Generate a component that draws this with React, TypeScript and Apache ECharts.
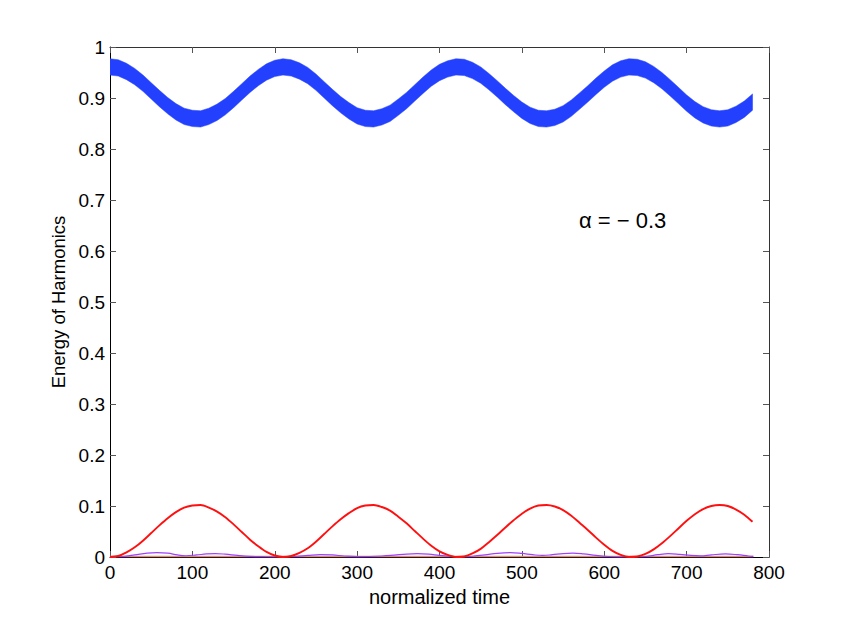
import React, { useEffect, useRef } from "react";
import * as echarts from "echarts";

// ---- data ----
const time = [
  0, 10, 20, 30, 40, 50, 60, 70, 80, 90, 100, 110, 120, 130, 140, 150, 160, 170, 180, 190,
  200, 210, 220, 230, 240, 250, 260, 270, 280, 290, 300, 310, 320, 330, 340, 350, 360, 370, 380, 390,
  400, 410, 420, 430, 440, 450, 460, 470, 480, 490, 500, 510, 520, 530, 540, 550, 560, 570, 580, 590,
  600, 610, 620, 630, 640, 650, 660, 670, 680, 690, 700, 710, 720, 730, 740, 750, 760, 770, 780,
];

const redEnergy = [
  0.0, 0.002, 0.009, 0.019, 0.032, 0.047, 0.062, 0.076, 0.088, 0.097, 0.101, 0.102, 0.097, 0.089, 0.078, 0.064, 0.049, 0.034, 0.021, 0.01,
  0.003, 0.0, 0.002, 0.008, 0.017, 0.03, 0.045, 0.06, 0.074, 0.086, 0.096, 0.101, 0.102, 0.098, 0.091, 0.079, 0.066, 0.051, 0.036, 0.022,
  0.011, 0.004, 0.0, 0.001, 0.007, 0.016, 0.029, 0.043, 0.058, 0.072, 0.085, 0.095, 0.101, 0.102, 0.099, 0.092, 0.081, 0.067, 0.053, 0.038,
  0.024, 0.012, 0.004, 0.0, 0.001, 0.006, 0.015, 0.027, 0.041, 0.056, 0.071, 0.084, 0.094, 0.1, 0.102, 0.1, 0.093, 0.083, 0.069,
];

const blueUpper = [
  0.977, 0.975, 0.968, 0.958, 0.945, 0.93, 0.915, 0.901, 0.889, 0.88, 0.876, 0.875, 0.88, 0.888, 0.899, 0.913, 0.928, 0.943, 0.956, 0.967,
  0.974, 0.977, 0.975, 0.969, 0.96, 0.947, 0.932, 0.917, 0.903, 0.891, 0.881, 0.876, 0.875, 0.879, 0.886, 0.898, 0.911, 0.926, 0.941, 0.955,
  0.966, 0.973, 0.977, 0.976, 0.97, 0.961, 0.948, 0.934, 0.919, 0.905, 0.892, 0.882, 0.876, 0.875, 0.878, 0.885, 0.896, 0.91, 0.924, 0.939,
  0.953, 0.965, 0.973, 0.977, 0.976, 0.971, 0.962, 0.95, 0.936, 0.921, 0.906, 0.893, 0.883, 0.877, 0.875, 0.877, 0.884, 0.894, 0.908,
];

const blueLower = [
  0.945, 0.943, 0.936, 0.926, 0.913, 0.898, 0.883, 0.869, 0.857, 0.848, 0.844, 0.843, 0.848, 0.856, 0.867, 0.881, 0.896, 0.911, 0.924, 0.935,
  0.942, 0.945, 0.943, 0.937, 0.928, 0.915, 0.9, 0.885, 0.871, 0.859, 0.849, 0.844, 0.843, 0.847, 0.854, 0.866, 0.879, 0.894, 0.909, 0.923,
  0.934, 0.941, 0.945, 0.944, 0.938, 0.929, 0.916, 0.902, 0.887, 0.873, 0.86, 0.85, 0.844, 0.843, 0.846, 0.853, 0.864, 0.878, 0.892, 0.907,
  0.921, 0.933, 0.941, 0.945, 0.944, 0.939, 0.93, 0.918, 0.904, 0.889, 0.874, 0.861, 0.851, 0.845, 0.843, 0.845, 0.852, 0.862, 0.876,
];

const purpleTime = [
  0, 15, 30, 45, 57, 70, 82, 92, 105, 117, 128, 140, 155, 170, 190, 210, 225, 240, 255, 270,
  285, 300, 315, 330, 345, 360, 373, 387, 400, 413, 425, 440, 455, 470, 486, 500, 513, 525, 537, 550,
  562, 575, 590, 605, 620, 635, 650, 665, 678, 692, 705, 717, 730, 747, 762, 775, 781,
];
const purpleEnergy = [
  0.0, 0.001, 0.004, 0.0075, 0.0086, 0.0075, 0.004, 0.0025, 0.004, 0.006, 0.0067, 0.0055, 0.003, 0.0012, 0.0005, 0.0003, 0.001, 0.003, 0.0048, 0.004,
  0.002, 0.0008, 0.001, 0.002, 0.0038, 0.0058, 0.0065, 0.0055, 0.003, 0.0012, 0.0005, 0.0015, 0.004, 0.0072, 0.0086, 0.007, 0.0045, 0.003, 0.0045, 0.0068,
  0.0075, 0.006, 0.003, 0.001, 0.0004, 0.0003, 0.001, 0.0045, 0.0065, 0.005, 0.003, 0.0022, 0.0042, 0.006, 0.0045, 0.002, 0.0012,
];

const orangeTime = [0, 781];
const orangeEnergy = [0.0012, 0.0012];

const xTickInterval = 100;
const yTickInterval = 0.1;
const annotation = "\u03b1 = \u2212 0.3";

const FONT = "'Liberation Sans', Arial, Helvetica, sans-serif";
const BLUE = "#2340ff";

function pairs(xs: number[], ys: number[]) {
  return xs.map((x, i) => [x, ys[i]]);
}

export default function App() {
  const ref = useRef<HTMLDivElement>(null);

  useEffect(() => {
    if (!ref.current) return;
    const chart = echarts.init(ref.current, undefined, { renderer: "svg" });

    const tick = { show: true, inside: true, length: 6, lineStyle: { color: "#555", width: 1 } };
    const line = (color: string) => ({ show: true, onZero: false, lineStyle: { color, width: 1 } });

    const option = {
      animation: false,
      backgroundColor: "#fff",
      grid: { left: 110, right: 80, top: 47, bottom: 70, containLabel: false },
      xAxis: [
        {
          type: "value",
          min: 0,
          max: 800,
          interval: xTickInterval,
          position: "bottom",
          axisLine: line("#000"),
          axisTick: tick,
          splitLine: { show: false },
          axisLabel: { color: "#000", fontSize: 19, fontFamily: FONT, margin: 6 },
          name: "normalized time",
          nameLocation: "middle",
          nameGap: 22,
          nameTextStyle: { color: "#000", fontSize: 20, fontFamily: FONT },
        },
        {
          type: "value",
          min: 0,
          max: 800,
          interval: xTickInterval,
          position: "top",
          axisLine: line("#333"),
          axisTick: tick,
          splitLine: { show: false },
          axisLabel: { show: false },
        },
      ],
      yAxis: [
        {
          type: "value",
          min: 0,
          max: 1,
          interval: yTickInterval,
          position: "left",
          axisLine: line("#000"),
          axisTick: tick,
          splitLine: { show: false },
          axisLabel: { color: "#000", fontSize: 19, fontFamily: FONT, margin: 5 },
          name: "Energy of Harmonics",
          nameLocation: "middle",
          nameGap: 39,
          nameTextStyle: { color: "#000", fontSize: 18.5, fontFamily: FONT },
        },
        {
          type: "value",
          min: 0,
          max: 1,
          interval: yTickInterval,
          position: "right",
          axisLine: line("#333"),
          axisTick: tick,
          splitLine: { show: false },
          axisLabel: { show: false },
        },
      ],
      series: [
        {
          name: "orange",
          type: "line",
          data: pairs(orangeTime, orangeEnergy),
          symbol: "none",
          lineStyle: { color: "#e08a70", width: 1.5 },
          z: 2,
        },
        {
          name: "purple",
          type: "line",
          data: pairs(purpleTime, purpleEnergy),
          symbol: "none",
          smooth: 0.4,
          lineStyle: { color: "#a040ff", width: 1.2 },
          z: 3,
        },
        {
          name: "red",
          type: "line",
          data: pairs(time, redEnergy),
          symbol: "none",
          smooth: 0.3,
          lineStyle: { color: "#ff1010", width: 1.9 },
          z: 4,
        },
        {
          name: "blueBand",
          type: "custom",
          data: pairs(time, blueUpper),
          clip: true,
          z: 5,
          renderItem: (params: any, api: any) => {
            if (params.dataIndex !== 0) return null;
            const top = time.map((t, i) => api.coord([t, blueUpper[i]]));
            const bottom = time.map((t, i) => api.coord([t, blueLower[i]])).reverse();
            return {
              type: "polygon",
              shape: { points: top.concat(bottom) },
              style: { fill: BLUE, stroke: BLUE, lineWidth: 0.5 },
            };
          },
        },
      ],
      graphic: [
        {
          type: "text",
          left: 579,
          top: 209,
          style: {
            text: annotation,
            fill: "#000",
            fontSize: 22,
            fontFamily: FONT,
          },
        },
      ],
    };

    chart.setOption(option as any);
    return () => chart.dispose();
  }, []);

  return (
    <div
      ref={ref}
      style={{ position: "fixed", left: 0, top: 0, width: 849, height: 627, background: "#fff" }}
    />
  );
}
